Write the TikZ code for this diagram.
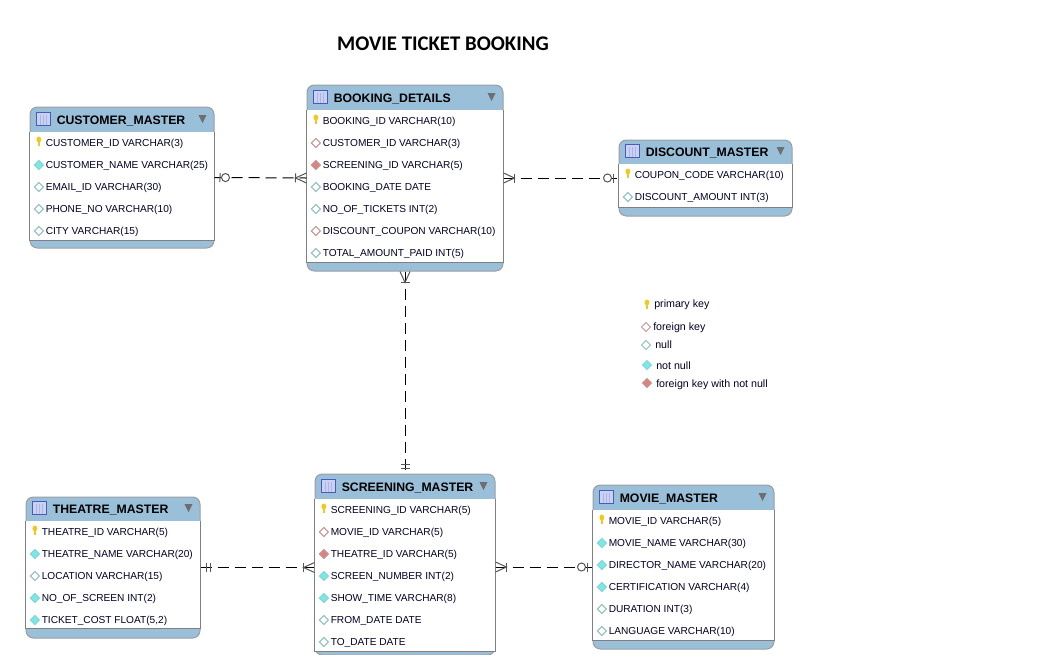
\documentclass[tikz,border=0pt]{standalone}
\usepackage{fontspec}
\usepackage{xcolor}
\usepackage{tikz}
\usetikzlibrary{decorations.markings}
\newfontfamily\erfont{Liberation Sans}
\newfontfamily\titlefont{Carlito}

\definecolor{tableblue}{HTML}{9ABFD9}
\definecolor{tableedge}{HTML}{9A9EA3}
\definecolor{bodyedge}{HTML}{808080}
\definecolor{tickgray}{HTML}{555555}
\definecolor{keyyellow}{HTML}{F2C81E}
\definecolor{nulledge}{HTML}{8FC0C0}
\definecolor{nnfill}{HTML}{7FE6E8}
\definecolor{fkedge}{HTML}{C49692}
\definecolor{fnfill}{HTML}{DC8280}
\definecolor{iconedge}{HTML}{4A5AC0}
\definecolor{iconfill}{HTML}{C9D2F2}

\tikzset{
	tablebox/.style={draw=tableedge, fill=tableblue, rounded corners=5.5pt, inner sep=0pt, line width=.75pt},
	bodybox/.style={draw=bodyedge, line width=.75pt},
	tablename/.style={anchor=mid west, inner sep=0pt, font=\erfont\bfseries\fontsize{9.2pt}{11pt}\selectfont},
	rowtext/.style={anchor=mid west, inner sep=0pt, text=black!85!blue, font=\erfont\fontsize{7.6pt}{10pt}\selectfont},
	legendtext/.style={anchor=mid west, inner sep=0pt, text=black!85!blue, font=\erfont\fontsize{8pt}{9pt}\selectfont},
	eritem/.pic={\csname er#1\endcsname},
	crow/.pic={
		\draw[solid, tickgray] (0,-5) -- (11,0) -- (0,5);
		\draw[solid, tickgray] (11,-4.5) -- (11,4.5);
	},
	onezero/.pic={
		\draw[solid, tickgray] (5.5,-4.5) -- (5.5,4.5);
		\draw[solid, tickgray, fill=white] (11,0) circle (4);
	},
	oneonly/.pic={
		\draw[solid, tickgray] (5.5,-4.5) -- (5.5,4.5);
		\draw[solid, tickgray] (9.5,-4.5) -- (9.5,4.5);
	},
	erlink/.style 2 args={
		line width=.75pt, dash pattern=on 8.25pt off 4.5pt,
		postaction={decorate, decoration={markings,
			mark=at position 0 with {\pic[transform shape] {#1};},
			mark=at position 1 with {\pic[transform shape, xscale=-1] {#2};}}}
	},
}

\newcommand{\erdia}[2]{\filldraw[draw=#1, fill=#2, line width=.75pt] (0,-4.5) -- (4.5,0) -- (0,4.5) -- (-4.5,0) -- cycle;}
\newcommand{\erpk}{
	\fill[keyyellow] (0,-3.5) ellipse (2.4 and 3);
	\fill[keyyellow] (-1.2,-3) rectangle (1.2,3);
}
\newcommand{\erfk}{\erdia{fkedge}{white}}
\newcommand{\ernl}{\erdia{nulledge}{white}}
\newcommand{\ernn}{\erdia{nnfill!85!gray}{nnfill}}
\newcommand{\erfn}{\erdia{fkedge}{fnfill}}

% name, centre x, centre y, width, height, header bottom, body bottom, title, rows
\newcommand{\ertable}[9]{
	\node[tablebox, minimum width=#4*.75pt, minimum height=#5*.75pt] (#1) at (#2,#3) {};
	\fill[white] (#1.west |- 0,#6) rectangle (#1.east |- 0,#7);
	\draw[bodybox] (#1.west |- 0,#6) -- (#1.west |- 0,#7) -- (#1.east |- 0,#7) -- (#1.east |- 0,#6);
	\node[tablename] (#1-title) at ([xshift=20.25pt]#1.north west |- 0,#6-10.5) {#8};
	% table icon
	\draw[iconedge, fill=iconfill, line width=.75pt] ([xshift=5.25pt]#1.west |- 0,#6-19.5) rectangle ([xshift=15.75pt]#1.west |- 0,#6-6.5);
	\foreach \col in {8.25,10.5,12.75} {
		\draw[iconedge!45, line width=.5pt] ([xshift=\col pt]#1.west |- 0,#6-17) -- ([xshift=\col pt]#1.west |- 0,#6-7);
	}
	\fill[tickgray!85] ([xshift=-6pt]#1.east |- 0,#6-17) -- ([xshift=-12pt]#1.east |- 0,#6-17) -- ([xshift=-9pt]#1.east |- 0,#6-9) -- cycle;
	\foreach \kind/\txt [count=\i from 0] in {#9} {
		\pgfmathsetmacro{\rowy}{#6+11+22*\i}
		\pic at ([xshift=7pt]#1.west |- 0,\rowy) {eritem=\kind};
		\node[rowtext] (#1-\i) at ([xshift=12pt]#1.west |- 0,\rowy+1) {\txt};
	}
}

\begin{document}
\begin{tikzpicture}[x=.75pt, y=-.75pt]
	\useasboundingbox (0,0) rectangle (1047,654);

	\node[font=\titlefont\bfseries\fontsize{15.6pt}{18pt}\selectfont, inner sep=0pt] (title) at (443,43.5) {MOVIE TICKET BOOKING};

	\ertable{customer}{122}{177.5}{184}{141}{132}{240}{CUSTOMER\_MASTER}{
		pk/CUSTOMER\_ID VARCHAR(3), nn/CUSTOMER\_NAME VARCHAR(25), nl/EMAIL\_ID VARCHAR(30),
		nl/PHONE\_NO VARCHAR(10), nl/CITY VARCHAR(15)}
	\ertable{booking}{405}{178}{196}{186}{110}{262}{BOOKING\_DETAILS}{
		pk/BOOKING\_ID VARCHAR(10), fk/CUSTOMER\_ID VARCHAR(3), fn/SCREENING\_ID VARCHAR(5),
		nl/BOOKING\_DATE DATE, nl/NO\_OF\_TICKETS INT(2), fk/DISCOUNT\_COUPON VARCHAR(10),
		nl/TOTAL\_AMOUNT\_PAID INT(5)}
	\ertable{discount}{705.5}{178}{173}{76}{164}{207}{DISCOUNT\_MASTER}{
		pk/COUPON\_CODE VARCHAR(10), nl/DISCOUNT\_AMOUNT INT(3)}
	\ertable{theatre}{113}{567.5}{174}{141}{521}{628}{THEATRE\_MASTER}{
		pk/THEATRE\_ID VARCHAR(5), nn/THEATRE\_NAME VARCHAR(20), nl/LOCATION VARCHAR(15),
		nn/NO\_OF\_SCREEN INT(2), nn/{TICKET\_COST FLOAT(5,2)}}
	\ertable{screening}{405}{564.5}{180}{181}{499}{651}{SCREENING\_MASTER}{
		pk/SCREENING\_ID VARCHAR(5), fk/MOVIE\_ID VARCHAR(5), fn/THEATRE\_ID VARCHAR(5),
		nn/SCREEN\_NUMBER INT(2), nn/SHOW\_TIME VARCHAR(8), nl/FROM\_DATE DATE, nl/TO\_DATE DATE}
	\ertable{movie}{683.5}{567}{181}{164}{510}{640}{MOVIE\_MASTER}{
		pk/MOVIE\_ID VARCHAR(5), nn/MOVIE\_NAME VARCHAR(30), nn/DIRECTOR\_NAME VARCHAR(20),
		nn/CERTIFICATION VARCHAR(4), nl/DURATION INT(3), nl/LANGUAGE VARCHAR(10)}

	\draw[erlink={onezero}{crow}] (customer.east) -- (booking.west);
	\draw[erlink={crow}{onezero}] (booking.east) -- (discount.west);
	\draw[erlink={crow}{oneonly}] (booking.south) -- (screening.north);
	\draw[erlink={oneonly}{crow}] (theatre.east) -- (theatre.east -| screening.west);
	\draw[erlink={crow}{onezero}] (movie.west -| screening.east) -- (movie.west);

	% legend
	\pic at (647,306) {eritem=pk};
	\node[legendtext] (lgpk) at (654,305) {primary key};
	\pic at (646,327) {eritem=fk};
	\node[legendtext] (lgfk) at (653,328) {foreign key};
	\pic at (646,345) {eritem=nl};
	\node[legendtext] (lgnl) at (655,346) {null};
	\pic at (647,365) {eritem=nn};
	\node[legendtext] (lgnn) at (656,367) {not null};
	\pic at (647,383) {eritem=fn};
	\node[legendtext] (lgfn) at (656,385) {foreign key with not null};
\end{tikzpicture}
\end{document}
